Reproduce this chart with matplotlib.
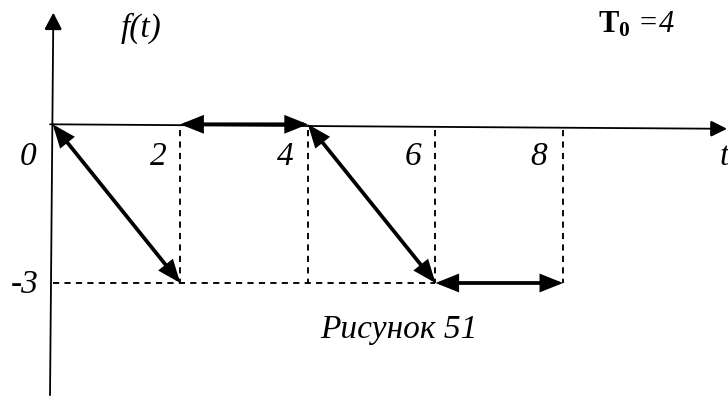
import matplotlib
matplotlib.use("Agg")
import matplotlib.pyplot as plt
from matplotlib.patches import FancyArrowPatch, ArrowStyle

plt.rcParams['font.family'] = ['Liberation Serif', 'DejaVu Serif']
plt.rcParams['mathtext.fontset'] = 'custom'
plt.rcParams['mathtext.rm'] = 'Liberation Serif'
plt.rcParams['mathtext.bf'] = 'Liberation Serif:bold'
plt.rcParams['mathtext.it'] = 'Liberation Serif:italic'

# ---- data ----
tick_values = [0, 2, 4, 6, 8]
tick_labels = ['0', '2', '4', '6', '8']
level_value = -3
level_label = '-3'
# arrows of the signal: (t_start, f_start, t_end, f_end)
seg_t0 = [0, 2, 4, 6]
seg_f0 = [0, 0, 0, -3]
seg_t1 = [2, 4, 6, 8]
seg_f1 = [-3, 0, -3, -3]
dash_t = [2, 4, 6, 8]
dash_h_end = 6
period_text = r"$\mathbf{T_0}$ =4"
caption = "Рисунок 51"

# ---- figure (pixel-matched mapping) ----
W, H = 728, 397
x0_px, sx = 52.7, 63.8
y0_px, sy = 124.3, 52.9
fig = plt.figure(figsize=(W / 100, H / 100), dpi=100)
ax = fig.add_axes([0, 0, 1, 1])
ax.set_xlim(-x0_px / sx, (W - x0_px) / sx)
ax.set_ylim(-(H - y0_px) / sy, y0_px / sy)
ax.axis('off')

def arrow(p, q, style, lw, hl, hw, z=3):
    a = FancyArrowPatch(p, q, arrowstyle=ArrowStyle(style, head_length=hl, head_width=hw),
                        mutation_scale=1, lw=lw, color='black', shrinkA=0, shrinkB=0,
                        joinstyle='miter', zorder=z)
    ax.add_patch(a)

# axes
arrow((-0.04, 0.0), ((727 - x0_px) / sx, -0.085), '-|>', 1.3, 10, 5, z=2)
arrow((-0.042, -5.12), (0.01, 2.11), '-|>', 1.3, 10.5, 5.5, z=2)

# dashed guides
dash_style = (0, (3.3, 2.8))
for t in dash_t:
    ax.plot([t, t], [-0.1, level_value], color='black', lw=1.35, ls=dash_style, zorder=1)
ax.plot([0, dash_h_end], [level_value, level_value], color='black', lw=1.35, ls=dash_style, zorder=1)

# signal arrows
for a0, b0, a1, b1 in zip(seg_t0, seg_f0, seg_t1, seg_f1):
    arrow((a0, b0), (a1, b1), '<|-|>', 2.7, 12, 4.8)

# labels
fs = 24
lab_y = -(157 - y0_px) / sy
lab_dx = [-0.39, -0.35, -0.36, -0.36, -0.38]
for t, s, d in zip(tick_values, tick_labels, lab_dx):
    ax.text(t + d, lab_y, s, fontsize=fs, style='italic', ha='center', va='center')
ax.text((720 - x0_px) / sx, lab_y, 't', fontsize=fs, style='italic', ha='left', va='center')
ax.text((25 - x0_px) / sx, level_value - 0.03, level_label, fontsize=fs, style='italic',
        ha='center', va='center')
ax.text((141 - x0_px) / sx, (y0_px - 28) / sy, 'f(t)', fontsize=fs, style='italic',
        ha='center', va='center')
ax.text((598 - x0_px) / sx, (y0_px - 25) / sy, period_text, fontsize=22, style='italic',
        ha='left', va='center')
ax.text((399 - x0_px) / sx, -(330 - y0_px) / sy, caption, fontsize=fs, style='italic',
        ha='center', va='center')

fig.savefig('out.png', dpi=100, facecolor='white')
